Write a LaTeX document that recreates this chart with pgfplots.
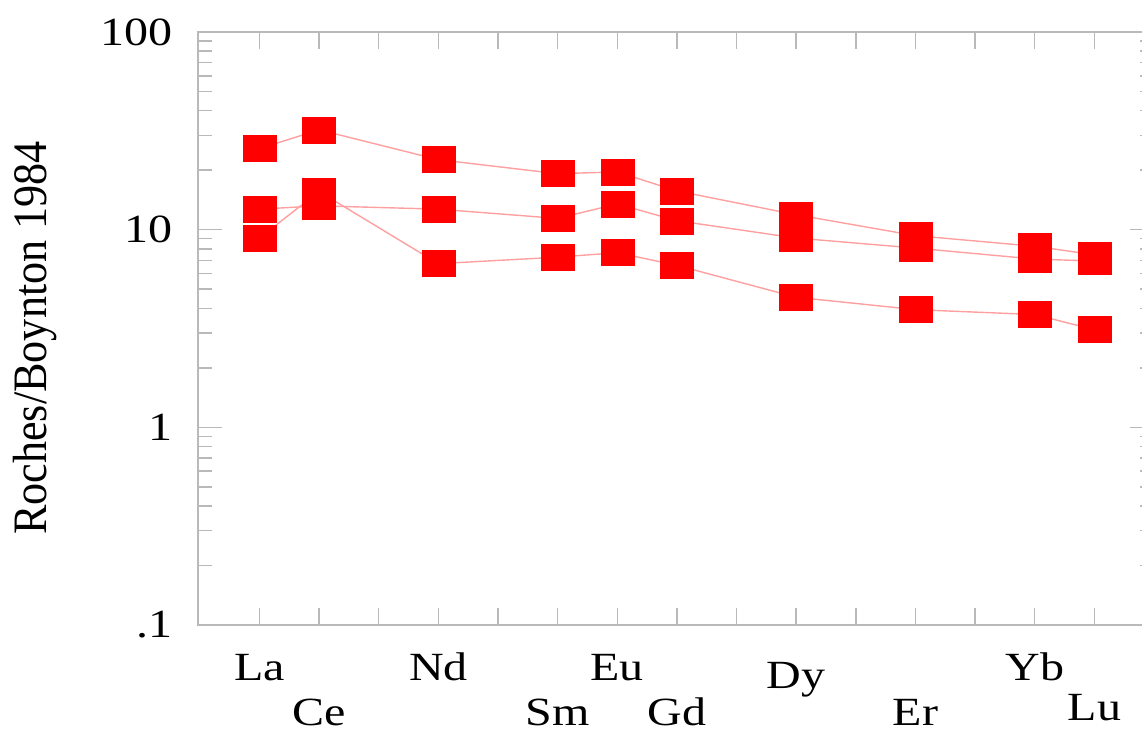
\documentclass[border=0pt]{standalone}
\usepackage{fontspec}
\setmainfont{Liberation Serif}
\newfontfamily\tickfont[FakeStretch=1.2]{Liberation Serif}
\newfontfamily\labfont[FakeStretch=0.92]{Liberation Serif}
\usepackage{pgfplots}
\usepackage{pgfplotstable}
\pgfplotsset{compat=1.18}
\usetikzlibrary{calc}
\definecolor{axgray}{RGB}{185,185,185}
\definecolor{linepink}{RGB}{255,160,160}
\definecolor{mred}{RGB}{255,0,0}

\pgfplotstableread{
x top mid low
0 25.7 12.7 9.07
1 32.0 13.2 15.6
3 22.6 12.7 6.73
5 19.2 11.4 7.26
6 19.6 13.5 7.65
7 15.7 11.1 6.60
9 11.9 9.07 4.55
11 9.33 8.07 3.94
13 8.24 7.10 3.72
14 7.47 6.94 3.12
}\ree

\begin{document}
\begin{tikzpicture}
\begin{axis}[
  scale only axis, width=478pt, height=296.5pt,
  xmin=-1.03, xmax=15, ymode=log, ymin=0.1, ymax=100,
  axis line style={axgray, line width=0.7pt},
  tick style={axgray, line width=0.7pt},
  tick align=inside,
  major tick length=12pt, minor tick length=7pt,
  xtick={0,...,14},
  xtick style={/pgfplots/major tick length=8.5pt},
  xticklabels={La, \raisebox{-22.5pt}{Ce}, , Nd, , \raisebox{-22.5pt}{Sm}, Eu, \raisebox{-22.5pt}{Gd}, , \raisebox{-4pt}{Dy}, , \raisebox{-22.5pt}{Er}, , Yb, \raisebox{-20pt}{Lu}},
  ytick={0.1,1,10,100}, yticklabels={.1,1,10,100},
  ticklabel style={font=\tickfont\fontsize{20}{24}\selectfont, text=black},
  xticklabel style={anchor=base, yshift=-27.5pt, inner sep=0pt},
  yticklabel style={anchor=east, inner sep=0pt, xshift=-12.5pt},
  ylabel={Roches/Boynton 1984},
  ylabel style={font=\labfont\fontsize{24}{28}\selectfont, at={(axis description cs:-0.1705,0.484)}, anchor=center},
  clip=false,
]
\addplot[linepink, line width=0.7pt, mark=square*, mark size=6.5pt, mark options={fill=mred, draw=mred, line width=0.2pt, xscale=1.27, solid}] table[x=x,y=top]{\ree};
\addplot[linepink, line width=0.7pt, mark=square*, mark size=6.5pt, mark options={fill=mred, draw=mred, line width=0.2pt, xscale=1.27, solid}] table[x=x,y=mid]{\ree};
\addplot[linepink, line width=0.7pt, mark=square*, mark size=6.5pt, mark options={fill=mred, draw=mred, line width=0.2pt, xscale=1.27, solid}] table[x=x,y=low]{\ree};
\coordinate (SW) at (rel axis cs:0,0);
\coordinate (NE) at (rel axis cs:1,1);
\end{axis}
\pgfresetboundingbox
\path[use as bounding box] ($(SW)+(-99pt,-53pt)$) rectangle ($(NE)+(-6pt,16pt)$);
\end{tikzpicture}
\end{document}
